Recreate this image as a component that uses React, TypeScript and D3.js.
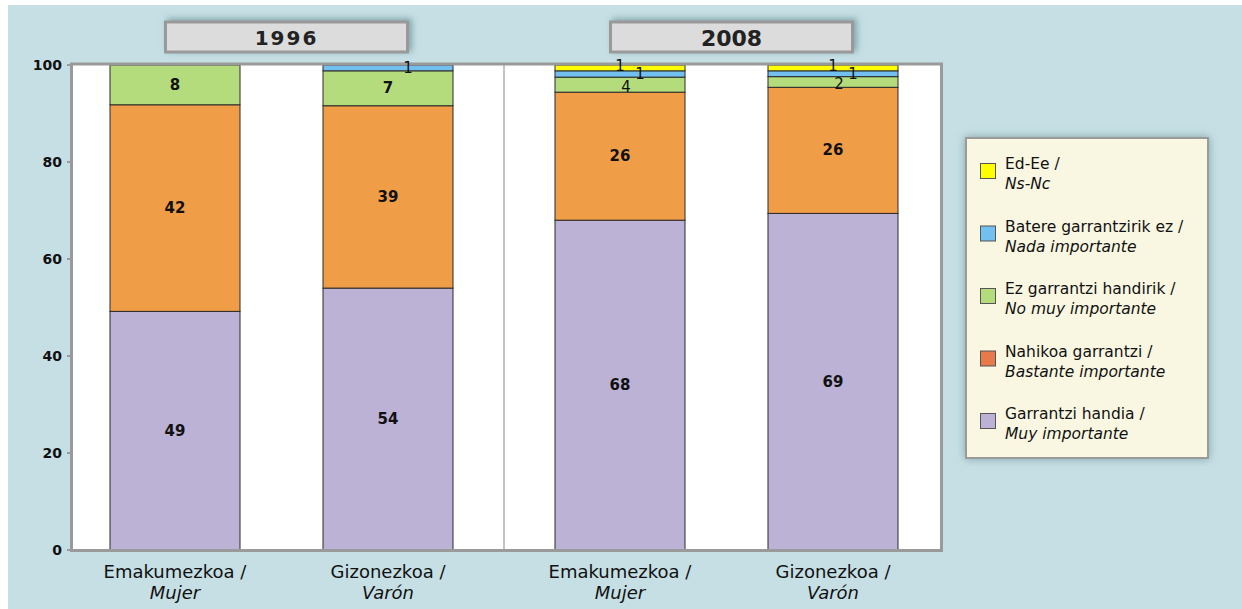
import React from "react";
import * as d3 from "d3";

const years = ["1996", "2008"];
const sexes = ["Emakumezkoa / Mujer", "Gizonezkoa / Varón"];
const sexLine1 = ["Emakumezkoa /", "Gizonezkoa /"];
const sexLine2 = ["Mujer", "Varón"];
const seriesKeys = ["muy", "bastante", "nomuy", "nada", "nsnc"];
const seriesEu = ["Garrantzi handia /", "Nahikoa garrantzi /", "Ez garrantzi handirik /", "Batere garrantzirik ez /", "Ed-Ee /"];
const seriesEs = ["Muy importante", "Bastante importante", "No muy importante", "Nada importante", "Ns-Nc"];
const seriesColors = ["#bbb2d6", "#f09d47", "#b5dc7c", "#72c0f0", "#ffff00"];
const legendColors = ["#bbb2d6", "#e8794a", "#b5dc7c", "#72c0f0", "#ffff00"];
// values per bar: [1996 Mujer, 1996 Varón, 2008 Mujer, 2008 Varón]
const muy = [49.2, 54.0, 68.0, 69.4];
const bastante = [42.6, 37.6, 26.4, 26.0];
const nomuy = [8.2, 7.2, 3.1, 2.2];
const nada = [0, 1.2, 1.3, 1.2];
const nsnc = [0, 0, 1.2, 1.2];
const labelsMuy = ["49", "54", "68", "69"];
const labelsBastante = ["42", "39", "26", "26"];
const labelsNomuy = ["8", "7", "4", "2"];
const labelsNada = ["", "1", "1", "1"];
const labelsNsnc = ["", "", "1", "1"];
const yTicks = [0, 20, 40, 60, 80, 100];

const seriesValues = [muy, bastante, nomuy, nada, nsnc];
const seriesLabels = [labelsMuy, labelsBastante, labelsNomuy, labelsNada, labelsNsnc];

const FONT = "'DejaVu Sans', Verdana, sans-serif";

export default function App() {
  const W = 1242, H = 609;
  const y = d3.scaleLinear().domain([0, 100]).range([550, 65]);
  const xGroup = d3.scaleBand<string>().domain(years).range([59, 949]).padding(0);
  const xSub = d3.scaleBand<string>().domain(sexes).range([0, xGroup.bandwidth()]).paddingInner(0.3897).paddingOuter(0.2395);

  const bars: { year: string; sex: string; idx: number }[] = [];
  years.forEach((yr, gi) => sexes.forEach((sx, si) => bars.push({ year: yr, sex: sx, idx: gi * 2 + si })));

  const rows = bars.map((b) => {
    const r: any = { key: b.idx };
    seriesKeys.forEach((k, s) => (r[k] = seriesValues[s][b.idx]));
    return r;
  });
  const stack = d3.stack<any>().keys(seriesKeys)(rows);

  const plotL = 71.5, plotR = 941.5, plotT = 64, plotB = 550.5;
  const smallDx = [0, 0, 6, 20, 0];
  const smallDy = [0, 0, 2, 0, -2];

  return (
    <svg width={W} height={H} style={{ display: "block", position: "absolute", left: 0, top: 0 }}>
      <defs>
        <filter id="sh" x="-20%" y="-40%" width="140%" height="180%">
          <feDropShadow dx="3" dy="-2" stdDeviation="3" floodColor="#6f959c" floodOpacity="0.8" />
        </filter>
        <filter id="sh2" x="-20%" y="-20%" width="140%" height="140%">
          <feDropShadow dx="0" dy="0" stdDeviation="4" floodColor="#7a9ca3" floodOpacity="0.9" />
        </filter>
      </defs>
      <rect x={0} y={0} width={W} height={H} fill="#ffffff" />
      <rect x={8} y={5} width={W - 8} height={H - 5} fill="#c5dfe4" />

      {/* plot area */}
      <rect x={plotL} y={plotT} width={plotR - plotL} height={plotB - plotT} fill="#ffffff" />
      <line x1={xGroup("2008")!} x2={xGroup("2008")!} y1={plotT} y2={plotB} stroke="#c4c4c4" strokeWidth={2} />

      {/* bars */}
      {stack.map((layer, s) =>
        layer.map((d, i) => {
          const b = bars[i];
          const x = xGroup(b.year)! + xSub(b.sex)!;
          const h = y(d[0]) - y(d[1]);
          if (h <= 0) return null;
          return (
            <rect key={`${s}-${i}`} x={x} y={y(d[1])} width={xSub.bandwidth()} height={h}
              fill={seriesColors[s]} stroke="#2a2a2a" strokeWidth={1} />
          );
        })
      )}

      {/* frame */}
      <rect x={plotL} y={plotT} width={plotR - plotL} height={plotB - plotT} fill="none" stroke="#9a9a9a" strokeWidth={3} />

      {/* bar labels */}
      {stack.map((layer, s) =>
        layer.map((d, i) => {
          const b = bars[i];
          const lab = seriesLabels[s][i];
          if (!lab) return null;
          const cx = xGroup(b.year)! + xSub(b.sex)! + xSub.bandwidth() / 2;
          const cy = (y(d[0]) + y(d[1])) / 2;
          const val = d[1] - d[0];
          const small = val < 5;
          return (
            <text key={`l${s}-${i}`} x={cx + (small ? smallDx[s] : 0)} y={cy + (small ? smallDy[s] : 0)}
              textAnchor="middle" dominantBaseline="central"
              fontFamily={FONT} fontSize={small ? 15 : 15} fontWeight={small ? "normal" : "bold"} fill="#111">
              {lab}
            </text>
          );
        })
      )}

      {/* y axis ticks */}
      {yTicks.map((t) => (
        <g key={t}>
          <line x1={67} x2={72} y1={y(t)} y2={y(t)} stroke="#9a9a9a" strokeWidth={2} />
          <text x={62} y={y(t)} textAnchor="end" dominantBaseline="central" fontFamily={FONT} fontSize={14} fontWeight="bold" fill="#111">
            {t}
          </text>
        </g>
      ))}

      {/* category labels */}
      {bars.map((b) => {
        const cx = xGroup(b.year)! + xSub(b.sex)! + xSub.bandwidth() / 2;
        const si = sexes.indexOf(b.sex);
        return (
          <g key={`c${b.idx}`}>
            <text x={cx} y={578} textAnchor="middle" fontFamily={FONT} fontSize={18} fill="#111">{sexLine1[si]}</text>
            <text x={cx} y={599} textAnchor="middle" fontFamily={FONT} fontSize={18} fontStyle="italic" fill="#111">{sexLine2[si]}</text>
          </g>
        );
      })}

      {/* year headers */}
      {years.map((yr) => {
        const cx = xGroup(yr)! + xGroup.bandwidth() / 2 + 5;
        return (
          <g key={yr}>
            <rect x={cx - 121} y={22} width={242} height={30} fill="#dcdcdc" stroke="#999999" strokeWidth={3} filter="url(#sh)" />
            <text x={cx} y={38} textAnchor="middle" dominantBaseline="central" fontFamily={FONT} fontSize={yr === "1996" ? 20 : 22} fontWeight="bold" letterSpacing={yr === "1996" ? 2 : 0} fill="#222">
              {yr}
            </text>
          </g>
        );
      })}

      {/* legend */}
      <rect x={966} y={138} width={242} height={320} fill="#f9f7e1" stroke="#9a9a9a" strokeWidth={2} filter="url(#sh2)" />
      {[4, 3, 2, 1, 0].map((s, k) => {
        const top = 163 + k * 62.5;
        return (
          <g key={`lg${s}`}>
            <rect x={980.5} y={top + 0.5} width={15} height={15} fill={legendColors[s]} stroke="#555" strokeWidth={1} />
            <text x={1005} y={top + 6} fontFamily={FONT} fontSize={15.5} fill="#111">{seriesEu[s]}</text>
            <text x={1005} y={top + 26} fontFamily={FONT} fontSize={15.5} fontStyle="italic" fill="#111">{seriesEs[s]}</text>
          </g>
        );
      })}
    </svg>
  );
}
